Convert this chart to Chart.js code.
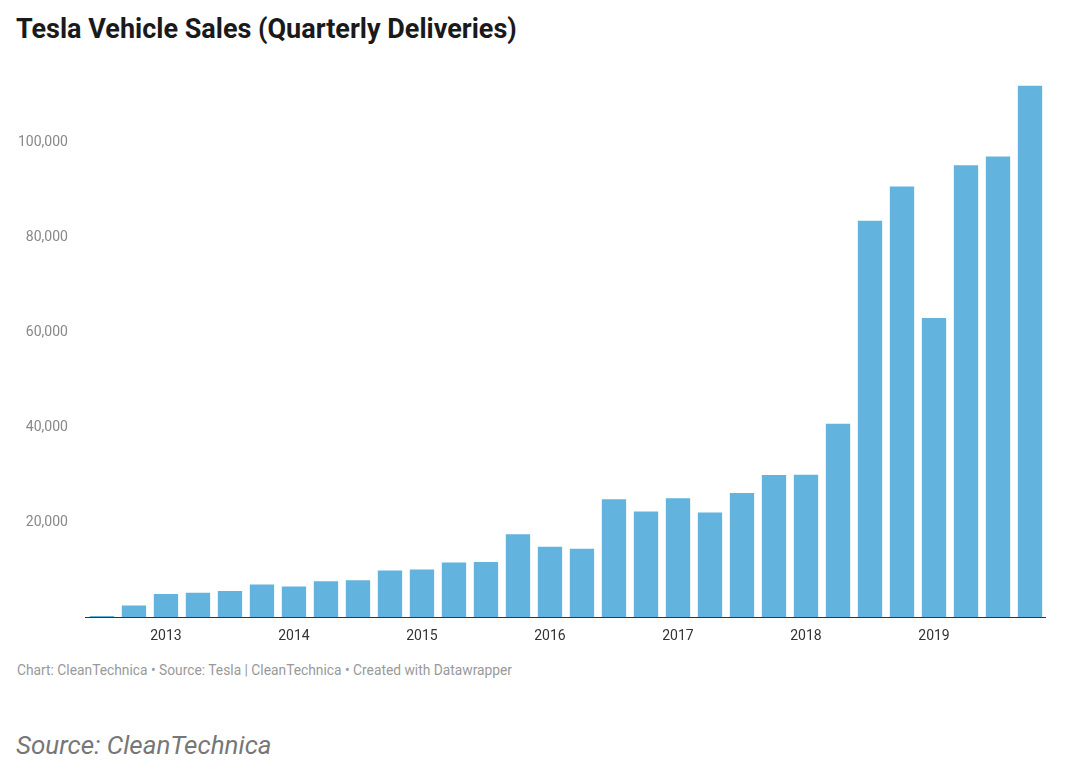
<!DOCTYPE html>
<html>
<head>
<meta charset="utf-8">
<script src="https://cdn.jsdelivr.net/npm/chart.js@4"></script>
<style>
  body { margin: 0; width: 1080px; height: 782px; background: #fff; font-family: Roboto, sans-serif; position: relative; }
  #title { position: absolute; left: 16px; top: 13px; font-size: 27px; font-weight: bold; color: #1a1a1a; }
  #box { position: absolute; left: 0; top: 67px; width: 1046px; height: 581px; }
  #notes { position: absolute; left: 17px; top: 662px; font-size: 13.8px; color: #999; }
  #src { position: absolute; left: 16px; top: 730px; font-size: 26px; font-style: italic; color: #777; }
</style>
</head>
<body>
<div id="title">Tesla Vehicle Sales (Quarterly Deliveries)</div>
<div id="box"><canvas id="chart"></canvas></div>
<div id="notes">Chart: CleanTechnica • Source: Tesla | CleanTechnica • Created with Datawrapper</div>
<div id="src">Source: CleanTechnica</div>
<script>
const quarters = [
  "2012 Q3","2012 Q4",
  "2013 Q1","2013 Q2","2013 Q3","2013 Q4",
  "2014 Q1","2014 Q2","2014 Q3","2014 Q4",
  "2015 Q1","2015 Q2","2015 Q3","2015 Q4",
  "2016 Q1","2016 Q2","2016 Q3","2016 Q4",
  "2017 Q1","2017 Q2","2017 Q3","2017 Q4",
  "2018 Q1","2018 Q2","2018 Q3","2018 Q4",
  "2019 Q1","2019 Q2","2019 Q3","2019 Q4"
];
const deliveries = [
  250, 2450,
  4900, 5150, 5500, 6892,
  6457, 7579, 7785, 9834,
  10045, 11532, 11603, 17478,
  14820, 14402, 24821, 22252,
  25051, 22026, 26137, 29967,
  29980, 40740, 83500, 90700,
  63000, 95200, 97000, 112000
];
const yTicks = [0, 20000, 40000, 60000, 80000, 100000];

new Chart(document.getElementById("chart").getContext("2d"), {
  type: "bar",
  data: {
    labels: quarters,
    datasets: [{ data: deliveries, backgroundColor: "#62b3de", categoryPercentage: 1, barPercentage: 0.76 }]
  },
  options: {
    responsive: true,
    maintainAspectRatio: false,
    animation: false,
    plugins: { legend: { display: false }, tooltip: { enabled: false } },
    layout: { padding: { left: 8, right: 0, top: 0, bottom: 0 } },
    scales: {
      x: {
        grid: { display: false },
        border: { display: true, color: "#333", width: 1 },
        ticks: {
          autoSkip: false, maxRotation: 0, color: "#333",
          font: { family: "Roboto", size: 14 },
          callback: (v, i) => quarters[i].endsWith("Q1") ? quarters[i].slice(0, 4) : ""
        }
      },
      y: {
        min: 0, max: 112000,
        afterBuildTicks: axis => { axis.ticks = yTicks.map(v => ({ value: v })); },
        grid: { display: false },
        border: { display: false },
        ticks: {
          color: "#888", padding: 10,
          font: { family: "Roboto", size: 14 },
          callback: v => v === 0 ? "" : v.toLocaleString("en-US")
        }
      }
    }
  }
});
</script>
</body>
</html>
